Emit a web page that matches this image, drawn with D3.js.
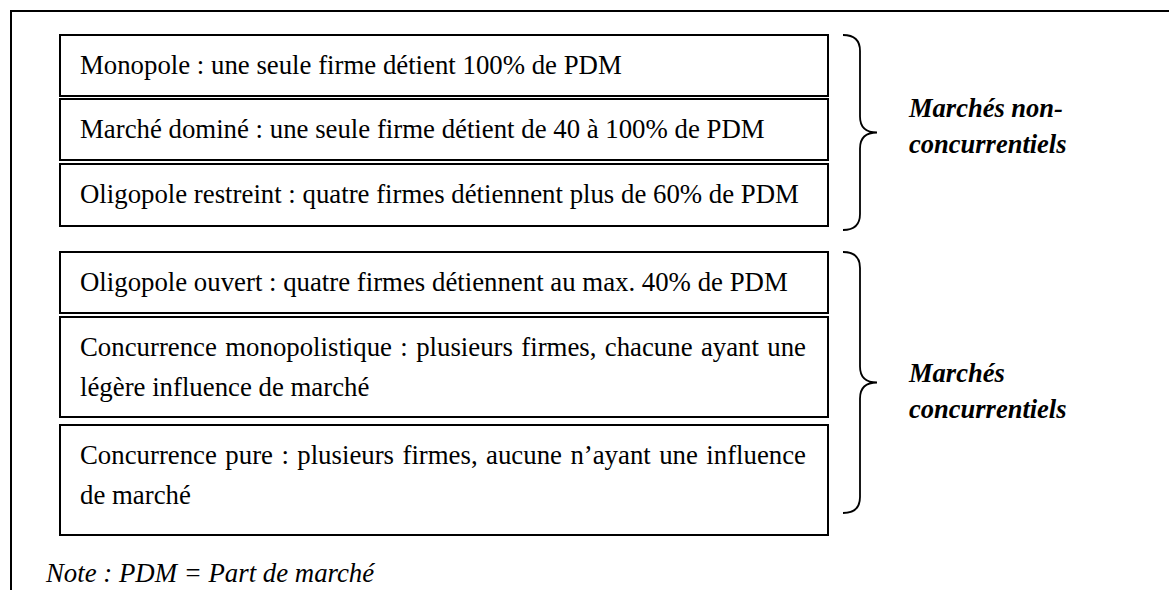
<!DOCTYPE html>
<meta charset="utf-8">
<script src="https://d3js.org/d3.v7.min.js"></script>
<div id="chart"></div>
<script>

// market structures, top to bottom, with the line breaks of the picture
const structures = [
  ["Monopole : une seule firme détient 100% de PDM"],
  ["Marché dominé : une seule firme détient de 40 à 100% de PDM"],
  ["Oligopole restreint : quatre firmes détiennent plus de 60% de PDM"],
  ["Oligopole ouvert : quatre firmes détiennent au max. 40% de PDM"],
  ["Concurrence monopolistique : plusieurs firmes, chacune ayant une", "légère influence de marché"],
  ["Concurrence pure : plusieurs firmes, aucune n\u2019ayant une influence", "de marché"]
];
// which group each structure belongs to
const structureGroup = [0, 0, 0, 1, 1, 1];
const groupLabels = [
  ["Marchés non-", "concurrentiels"],
  ["Marchés", "concurrentiels"]
];
const note = "Note : PDM = Part de marché";

var width = 1169, height = 590;
var fontName = "'Liberation Serif', 'Tinos'";
var fontSize = 26.8;

d3.select("body").style("margin", "0px");

var svg = d3.select("#chart")
  .append("svg")
    .attr("width", width)
    .attr("height", height)
    .style("font-family", fontName);

// outer frame (top and left sides only)
svg.append("path")
  .attr("d", "M11,590 V11 H1169")
  .attr("fill", "none")
  .attr("stroke", "#000")
  .attr("stroke-width", 2);

// box layout (px): heights and the gap above each box
var boxHeights = [61, 61, 62, 61, 100, 110];
var gapAbove = [0, 3, 4, 0, 4, 8];
var groupStart = [35, 252];
var layout = [];
var cursor = {};
structures.forEach(function(lines, i) {
  var g = structureGroup[i];
  if (cursor[g] === undefined) cursor[g] = groupStart[g];
  var y0 = cursor[g] + gapAbove[i];
  layout.push({lines: lines, group: g, y0: y0, y1: y0 + boxHeights[i]});
  cursor[g] = y0 + boxHeights[i];
});

var boxLeft = 60, boxRight = 828;
var x = d3.scaleLinear().domain([0, 1]).range([boxLeft, boxRight]);

var boxes = svg.selectAll("g.box")
  .data(layout)
  .enter()
  .append("g")
    .attr("class", "box");

boxes.append("rect")
  .attr("x", x(0))
  .attr("y", function(d) { return d.y0; })
  .attr("width", x(1) - x(0))
  .attr("height", function(d) { return d.y1 - d.y0; })
  .attr("fill", "none")
  .attr("stroke", "#000")
  .attr("stroke-width", 2);

var textLeft = 80, textRight = 806;

boxes.each(function(d) {
  var g = d3.select(this);
  d.lines.forEach(function(line, j) {
    g.append("text")
      .attr("class", j < d.lines.length - 1 ? "justify" : "plain")
      .attr("x", textLeft)
      .attr("y", d.y0 + 39 + j * 40)
      .style("font-family", fontName)
      .attr("font-size", fontSize)
      .text(line);
  });
});

// braces for each group
function brace(x0, top, bottom, tip) {
  var xv = x0 + 17, xt = x0 + 34;
  var p = d3.path();
  p.moveTo(x0, top);
  p.quadraticCurveTo(xv, top, xv, top + 16);
  p.lineTo(xv, tip - 16);
  p.quadraticCurveTo(xv, tip, xt, tip);
  p.quadraticCurveTo(xv, tip, xv, tip + 16);
  p.lineTo(xv, bottom - 16);
  p.quadraticCurveTo(xv, bottom, x0, bottom);
  return p.toString();
}

var groupExtent = groupLabels.map(function(lab, g) {
  var items = layout.filter(function(d) { return d.group === g; });
  return {label: lab, top: d3.min(items, function(d) { return d.y0; }),
          bottom: d3.max(items, function(d) { return d.y1; })};
});
// the lower brace stops short of the last box
groupExtent[0].braceTop = groupExtent[0].top;
groupExtent[0].braceBottom = groupExtent[0].bottom + 4;
groupExtent[0].labelY = 117;
groupExtent[1].braceTop = groupExtent[1].top;
groupExtent[1].braceBottom = groupExtent[1].bottom - 22;
groupExtent[1].labelY = 382;
groupExtent.forEach(function(d) { d.tip = (d.braceTop + d.braceBottom) / 2; });

svg.selectAll("path.brace")
  .data(groupExtent)
  .enter()
  .append("path")
    .attr("class", "brace")
    .attr("d", function(d) { return brace(843, d.braceTop, d.braceBottom, d.tip); })
    .attr("fill", "none")
    .attr("stroke", "#000")
    .attr("stroke-width", 1.8);

groupExtent.forEach(function(d) {
  d.label.forEach(function(line, j) {
    svg.append("text")
      .attr("x", 909)
      .attr("y", d.labelY + j * 36)
      .style("font-family", fontName)
      .attr("font-size", 26.5)
      .attr("font-weight", "bold")
      .attr("font-style", "italic")
      .text(line);
  });
});

svg.append("text")
  .attr("x", 46)
  .attr("y", 582)
  .style("font-family", fontName)
  .attr("font-size", fontSize)
  .attr("font-style", "italic")
  .text(note);

// justify the first line of two-line boxes once fonts are in place
function justify() {
  svg.selectAll("text.justify").each(function() {
    var t = d3.select(this).attr("word-spacing", null);
    var words = t.text().split(" ");
    var w = this.getComputedTextLength();
    var extra = (textRight - textLeft - w) / (words.length - 1);
    if (extra > 0) t.attr("word-spacing", extra);
  });
}
justify();
if (document.fonts && document.fonts.ready) document.fonts.ready.then(justify);

</script>
